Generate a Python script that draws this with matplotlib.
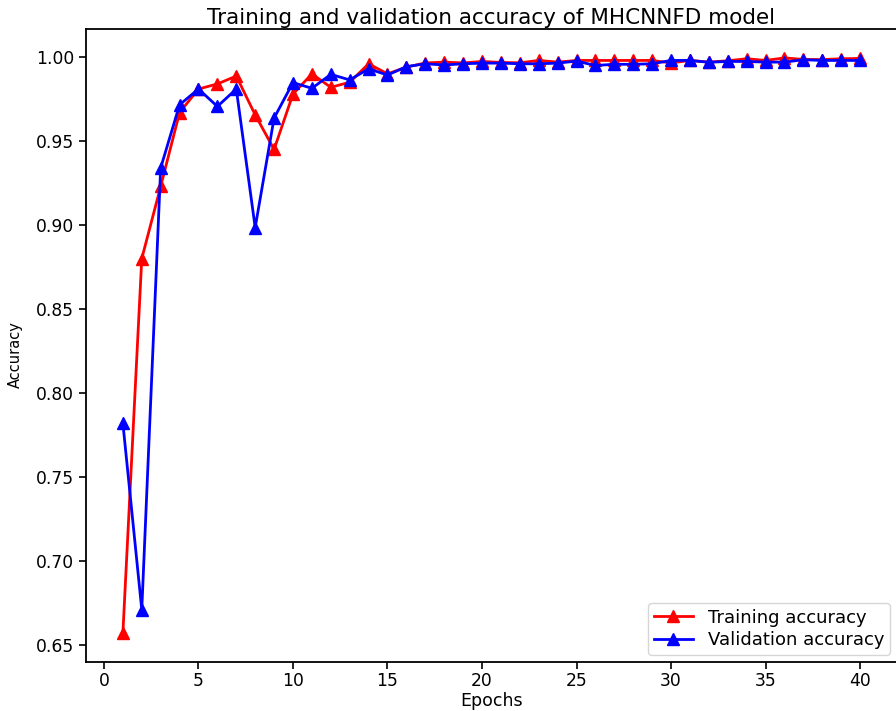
import numpy as np
import matplotlib
matplotlib.use("Agg")
import matplotlib.pyplot as plt

epochs = list(range(1, 41))

train_acc = [0.657, 0.880, 0.923, 0.967, 0.981, 0.984, 0.9887, 0.9656, 0.945, 0.978,
             0.990, 0.982, 0.985, 0.996, 0.990, 0.994, 0.9965, 0.997, 0.9965, 0.9974,
             0.9968, 0.9966, 0.998, 0.997, 0.998, 0.998, 0.998, 0.998, 0.998, 0.9965,
             0.998, 0.997, 0.9978, 0.999, 0.998, 0.9995, 0.9986, 0.9985, 0.999, 0.9992]

val_acc = [0.782, 0.671, 0.934, 0.9716, 0.981, 0.9706, 0.981, 0.8985, 0.9637, 0.9848,
           0.9814, 0.9897, 0.9864, 0.993, 0.9893, 0.9943, 0.996, 0.9953, 0.996, 0.9964,
           0.9964, 0.996, 0.996, 0.9964, 0.9976, 0.995, 0.9957, 0.9957, 0.996, 0.998,
           0.998, 0.9969, 0.9974, 0.9974, 0.997, 0.997, 0.9984, 0.998, 0.998, 0.998]

fig = plt.figure(figsize=(8.96, 7.11), dpi=100)
ax = fig.add_axes([0.096, 0.069, 0.905, 0.890])

ax.plot(epochs, train_acc, color="red", marker="^", markersize=8.5, linewidth=2,
        label="Training accuracy")
ax.plot(epochs, val_acc, color="blue", marker="^", markersize=8.5, linewidth=2,
        label="Validation accuracy")

ax.set_title("Training and validation accuracy of MHCNNFD model", fontsize=15.5, pad=4)
ax.set_xlabel("Epochs", fontsize=12.5, labelpad=1)
ax.set_ylabel("Accuracy", fontsize=10.5, labelpad=8)
ax.yaxis.set_label_coords(-0.078, 0.485)
ax.tick_params(labelsize=12.3, length=5, width=1.2)
ax.tick_params(axis="x", pad=2.5)
for s in ax.spines.values():
    s.set_linewidth(1.3)
ax.legend(loc="lower right", fontsize=13, labelspacing=0.25, borderpad=0.3,
          handlelength=2.2, borderaxespad=0.4)

fig.savefig("out.png", dpi=100)
